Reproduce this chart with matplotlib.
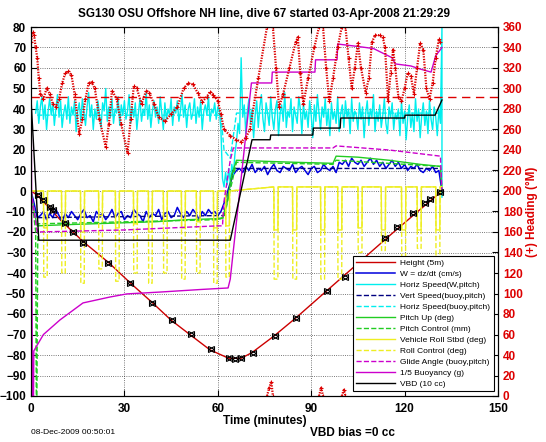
import numpy as np
import matplotlib
matplotlib.use("Agg")
import matplotlib.pyplot as plt

plt.rcParams['font.family'] = ['Liberation Sans', 'DejaVu Sans']

# ***** Data ***** #

# height (5m units) along the dive
height_t = [0, 2, 10, 17, 25, 32, 39, 45, 51, 57.5, 63.5, 67.5, 71, 78, 85, 100, 115, 125, 132]
height_v = [0, -2, -15, -25, -35, -45, -54.5, -63, -70, -77.5, -81.6, -81.6, -78.8, -70.8, -62, -42, -22, -9, 0]

# sample markers drawn on top of the height trace
mark_t = [2.3, 3.9, 6.1, 7.1, 10.9, 13.5, 16.7, 24.8, 31.8, 38.8, 45.2, 51.4, 57.7, 63.7, 65.5, 67.4,
          71.2, 78.4, 85.1, 95, 101, 106, 113.7, 117.5, 122.7, 126.6, 128.2, 131.4]
mark_v = [-1.9, -4.4, -7.8, -9.3, -15.6, -20, -25.4, -35, -45, -54.5, -62.9, -69.8, -77.2, -81.6, -81.8, -81.6,
          -78.9, -70.7, -62.1, -49, -42, -35, -22.9, -17.4, -10.6, -5.9, -3.9, -0.5]

# vertical velocity W (cm/s), one value per minute from t=0
w_vals = [0, -6, -13,
          -12, -10, -14, -11, -13, -9, -12, -15, -11, -13, -10, -12, -14, -11, -9, -13, -12, -15, -10, -12,
          -11, -14, -12, -9, -13, -11, -10, -14, -12, -13, -9, -11, -12, -15, -10, -13, -11, -12, -9, -14,
          -11, -10, -13, -12, -8, -11, -13, -10, -12, -9, -11, -14, -10, -12, -9, -11, -10, -12,
          -10, -6, -1, 4, 8, 10,
          11, 9, 12, 10, 13, 9, 11, 10, 12, 8, 11, 13, 10, 9, 12, 11, 10, 13, 9, 11,
          12, 10, 8, 11, 12, 9, 10, 13, 11, 10, 12, 9, 14, 13, 15, 12, 16, 14, 13, 15,
          12, 14, 16, 13, 15, 12, 14, 11, 13, 15, 12, 14, 11, 13, 10, 12, 11, 13, 10, 9,
          11, 10, 12, 9, 10,
          0]

# horizontal speed from W and pitch, every half minute from t=1.5 to 131.5
hspd_vals = [38, 44, 33, 41, 46, 35, 42, 30, 39, 45, 37, 43, 32, 40, 47, 36, 44, 31, 38, 42,
             35, 46, 33, 41, 37, 44, 29, 39, 43, 34, 45, 38, 32, 41, 48, 36, 42, 30, 40, 35,
             44, 37, 31, 43, 39, 50, 34, 41, 36, 45, 33, 40, 38, 46, 32, 42, 37, 44, 35, 39,
             47, 33, 41, 36, 43, 30, 38, 45, 34, 40, 37, 48, 35, 42, 31, 39, 44, 36, 41, 33,
             46, 38, 30, 43, 35, 40, 37, 45, 32, 41, 38, 44, 34, 39, 47, 36, 42, 31, 40, 43,
             35, 38, 45, 33, 41, 36, 44, 30, 39, 42, 37, 46, 34, 40, 38, 43, 35, 41, 39,
             30, 6, 2, 9, 3, 11, 4, 13, 8, 18, 24, 33, 28, 65,
             36, 42, 28, 39, 45, 33, 40, 26, 37, 44, 31, 41, 47, 35, 29, 43, 38, 32, 46, 36,
             30, 40, 44, 27, 38, 42, 34, 48, 31, 39, 36, 45, 29, 41, 37, 33, 46, 40, 28, 43,
             35, 39, 31, 44, 37, 26, 42, 34, 47, 38, 30, 41, 36, 45, 32, 40, 27, 43, 35, 39,
             33, 46, 29, 38, 42, 31, 44, 36, 40, 28, 45, 34, 39, 37, 30, 43, 35, 41, 26, 38,
             44, 32, 40, 36, 47, 29, 39, 34, 42, 31, 37, 45, 33, 28, 41, 36, 43, 30, 38, 35,
             40, 27, 44, 33, 39, 25, 36, 42, 31, 38, 29, 45, 34, 40, 26, 37, 43, 32, 39, 28,
             44, 35, 30, 41, 36, 27, 40, 33]
hspd_end_t = [132, 132]
hspd_end_v = [80, -3]

# buoyancy / pitch model speeds
vbuoy_t = [2, 60, 62, 65, 131.5]
vbuoy_v = [-13, -12, -12, 11, 11]
hbuoy_t = [2, 61, 62, 64, 66, 131.5]
hbuoy_v = [37, 37, 20, 16, 38, 38]

# pitch
pitch_t = [0, 1, 2, 10, 20, 30, 40, 50, 60, 61.5, 63, 64.5, 66, 75, 85, 97, 98, 105, 115, 125, 131.5, 132]
pitch_v = [0, -10, -17, -16.5, -16, -15.5, -15, -14, -13.5, -13, -5, 8, 15, 14.5, 14, 13.5, 17, 16.5, 15, 13, 12, 0]
pctl_t = [0, 1.5, 1.7, 1.9, 2.2, 60, 62, 66, 97, 98, 131.5]
pctl_v = [0, -20, -100, -100, -16, -14, -13, 14, 13, 15, 12]

# roll: dips (start, end) in minutes
dip_start = [4.0, 9.8, 15.9, 21.7, 27.1, 32.9, 37.7, 42.5, 48.3, 53.1, 58.6,
             62.5, 78.0, 84.0, 93.0, 98.5, 105.0, 112.5, 119.0, 124.0, 130.0]
dip_end = [5.2, 11.0, 17.1, 22.9, 28.3, 34.1, 38.9, 43.7, 49.5, 54.3, 59.8,
           63.7, 79.3, 85.3, 94.3, 99.8, 106.3, 113.8, 120.3, 125.3, 131.3]
roll_level = [0, 0, 0, 0, 0, 0, 0, 0, 0, 0, 0,
              0, 2, 2, 2, 2, 2, 2, 2, 2, 2]
roll_depth = [-18, -15, -20, -12, -18, -16, -20, -14, -18, -15, -18,
              -17, -19, -19, -19, -19, -18, -19, -19, -19, -19]
rctl_depth = [-42, -40, -45, -38, -44, -40, -45, -40, -43, -40, -45,
              -42, -43, -43, -43, -43, -30, -29, -38, -28, -38]

# glide angle
glide_t = [0, 1.5, 2, 30, 60, 61.5, 62, 64, 65, 97, 98, 115, 131.5, 132]
glide_v = [0, -15, -20, -19, -17, -17, -5, 15, 21, 21, 22, 20, 17, 0]

# 1/5 buoyancy
buoy_t = [0, 0.6, 0.9, 4, 9.3, 16.7, 25.4, 30.8, 41.4, 55, 63.3, 64, 70.8, 77.3, 77.5, 91.2, 91.4,
          98.3, 98.5, 105, 110, 112, 116, 117, 122, 125, 128.5, 130, 132]
buoy_v = [70, -150, -78, -70, -62.9, -54.6, -51.7, -50.2, -49.3, -48, -47.3, -43, 52.7, 52.7, 58, 58, 64,
          64, 71.7, 70.5, 69.5, 68, 65, 62, 61, 59.5, 58, 66, 70]

# VBD
vbd_t = [0, 2.5, 64, 71, 76.8, 77, 90.5, 90.7, 99.3, 99.5, 120, 120.2, 129.8, 132]
vbd_v = [45, -24, -24, 25, 25, 27.3, 27.3, 30.7, 30.7, 35.6, 35.6, 37, 37, 44.4]

# heading (deg M), NaN separates wraps through 360
head_t = [0, 0.5, 1, 1.5, 2, 2.5, 3, 4, 5, 6, 7, 8, 9, 10, 11, 12, 13, 14, 15.5, 16.5, 17.5, 18.5, 19.5,
          20.5, 22, 24, 25, 26, 27.5, 29, 31, 32, 33, 34, 35.5, 37, 38, 39.5, 41, 43, 45, 47, 49, 50.5,
          52, 53.5, 55, 56.5, 57.5, 58.5, 60, 61, 62, 64, 66, 67.5, 69, 70.3, 73, 75.8, np.nan,
          75.8, 76.5, 77.2, 77.7, np.nan,
          77.7, 78.7, 79.7, 81, 83, 85, 85.7, 86.5, 87.5, 89, 91, 92.5, np.nan,
          92.5, 93.2, 93.8, np.nan,
          93.8, 94.8, 95.8, 97, 98.5, 99.8, np.nan,
          99.8, 100.5, 101, np.nan,
          101, 102, 103, 104, 105, 106, 107.5, 108.5, 109.5, 110.5, 112, 113, 113.7, 114.7, 115.5, 116.3,
          117, 118, 119, 120, 121, 122, 123, 124, 125, 126, 127, 128, 129, 130, 131, 131.5]
head_v = [345, 355, 352, 340, 330, 310, 295, 290, 300, 295, 285, 282, 290, 305, 315, 317, 313, 295, 256,
          270, 290, 305, 306, 300, 270, 243, 265, 298, 290, 265, 237, 270, 302, 300, 285, 298, 296, 285,
          272, 268, 275, 282, 300, 305, 304, 296, 287, 292, 297, 294, 288, 275, 260, 254, 250, 248, 252,
          260, 310, 360, np.nan,
          0, 8, 14, 0, np.nan,
          360, 320, 282, 295, 320, 345, 350, 315, 285, 310, 340, 360, np.nan,
          0, 8, 0, np.nan,
          360, 320, 288, 310, 340, 360, np.nan,
          0, 6, 0, np.nan,
          360, 330, 300, 320, 344, 320, 296, 310, 345, 352, 352, 350, 340, 288, 315, 338,
          320, 292, 288, 300, 315, 312, 295, 320, 344, 338, 300, 290, 305, 330, 348, 345]
head_target = 292

labels = ['Height (5m)', 'W = dz/dt (cm/s)', 'Horiz Speed(W,pitch)', 'Vert Speed(buoy,pitch)',
          'Horiz Speed(buoy,pitch)', 'Pitch Up (deg)', 'Pitch Control (mm)', 'Vehicle Roll Stbd (deg)',
          'Roll Control (deg)', 'Glide Angle (buoy,pitch)', '1/5 Buoyancy (g)', 'VBD (10 cc)']


def pulses(level, depth):
    t, v = [0.0], [0.0]
    for a, b, lv, d in zip(dip_start, dip_end, level, depth):
        t += [a, a + 0.1, b, b + 0.1]
        v += [lv, d, d, lv]
    t.append(132)
    v.append(2)
    return t, v


# ***** Plot ***** #

fig = plt.figure(figsize=(5.46, 4.42), dpi=100)
ax = fig.add_axes([31 / 546, 1 - 396 / 442, 467 / 546, 369 / 442])

RED = '#dd0000'
CYAN = '#00eeee'
YEL = '#eeee22'
GRN = '#22cc22'
MAG = '#cc00cc'

roll_t, roll_v = pulses(roll_level, roll_depth)
rctl_t, rctl_v = pulses(roll_level, rctl_depth)

h = []
h += ax.plot(height_t, height_v, color='#cc0000', lw=1.0)
h += ax.plot(np.arange(len(w_vals)), w_vals, color='#0000dd', lw=1.1)
hs_t = list(np.arange(1.5, 132, 0.5)) + hspd_end_t
h += ax.plot(hs_t, hspd_vals + hspd_end_v, color=CYAN, lw=1.0)
h += ax.plot(vbuoy_t, vbuoy_v, color='#000080', lw=1.0, ls='--')
h += ax.plot(hbuoy_t, hbuoy_v, color=CYAN, lw=1.0, ls='--')
h += ax.plot(pitch_t, pitch_v, color=GRN, lw=1.0)
h += ax.plot(pctl_t, pctl_v, color=GRN, lw=1.0, ls='--')
h += ax.plot(roll_t, roll_v, color=YEL, lw=1.0)
h += ax.plot(rctl_t, rctl_v, color=YEL, lw=1.0, ls='--')
h += ax.plot(glide_t, glide_v, color=MAG, lw=1.0, ls='--')
h += ax.plot(buoy_t, buoy_v, color=MAG, lw=1.0)
h += ax.plot(vbd_t, vbd_v, color='k', lw=1.0)
ax.plot(mark_t, mark_v, ls='', marker='>', ms=5, mfc='none', mec='k', mew=0.8)
ax.plot(mark_t, mark_v, ls='', marker='<', ms=5, mfc='none', mec='k', mew=0.8)

ax.set_xlim(0, 150)
ax.set_ylim(-100, 80)
ax.set_xticks(range(0, 151, 30))
ax.set_yticks(range(-100, 81, 10))
ax.grid(True, color='k', ls=':', lw=0.6, alpha=0.7)
ax.tick_params(direction='in', labelsize=8.5, length=4, top=True)
ax.tick_params(axis='x', pad=5)
for lab in ax.get_xticklabels() + ax.get_yticklabels():
    lab.set_fontweight('bold')
ax.set_xlabel('Time (minutes)', fontsize=8.5, fontweight='bold', labelpad=0)

ax2 = ax.twinx()
ax2.plot(head_t, head_v, color=RED, lw=1.6, ls=(0, (0.6, 0.6)))
ax2.plot(head_t, head_v, color=RED, ls='', marker='+', ms=3.5, mew=0.8)
ax2.axhline(head_target, color=RED, lw=1.0, ls=(0, (6, 4)))
ax2.set_ylim(0, 360)
ax2.set_yticks(range(0, 361, 20))
ax2.tick_params(direction='in', labelsize=8.5, length=4, labelcolor=RED)
for lab in ax2.get_yticklabels():
    lab.set_fontweight('bold')
ax2.set_ylabel('(+) Heading (\u00b0M)', color=RED, fontsize=8.5, fontweight='bold', labelpad=2)

leg = ax2.legend(h, labels, loc='lower right', bbox_to_anchor=(0.991, 0.013), borderaxespad=0,
                 fontsize=6, handlelength=4.6, labelspacing=0.38, handletextpad=0.7,
                 borderpad=0.4, fancybox=False, framealpha=1)
leg.get_frame().set_edgecolor('k')
leg.get_frame().set_linewidth(0.8)

fig.text(264 / 546, 1 - 14 / 442, 'SG130 OSU Offshore NH line, dive 67 started 03-Apr-2008 21:29:29',
         ha='center', va='center', fontsize=8.5, fontweight='bold')
fig.text(31 / 546, 1 - 433 / 442, '08-Dec-2009 00:50:01', ha='left', va='center', fontsize=6)
fig.text(310 / 546, 1 - 433 / 442, 'VBD bias =0 cc', ha='left', va='center', fontsize=8.5, fontweight='bold')

fig.savefig('out.png', dpi=100)
